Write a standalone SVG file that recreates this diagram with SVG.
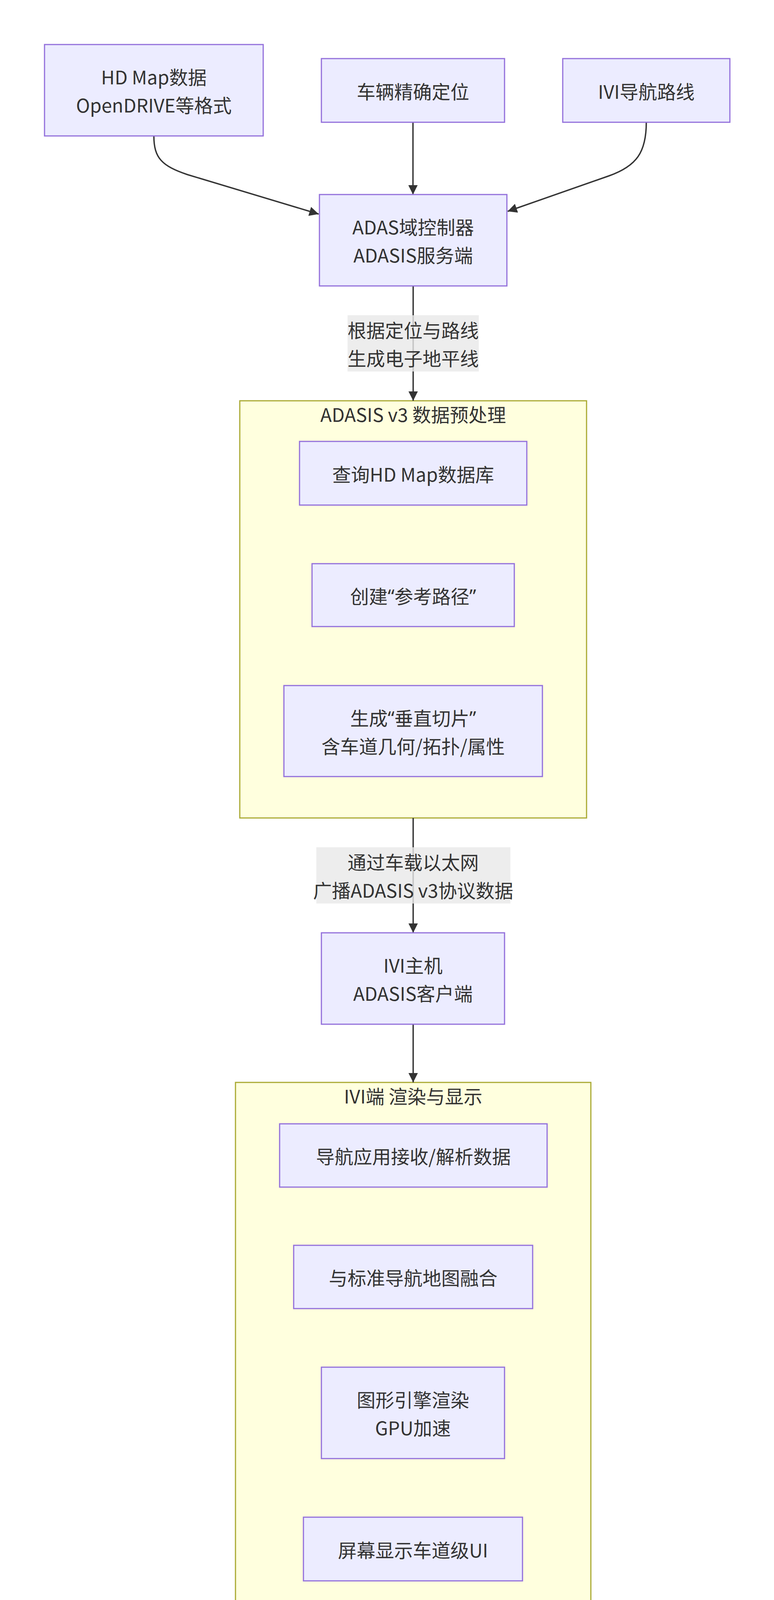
<svg xmlns="http://www.w3.org/2000/svg" width="1982" height="4265" viewBox="0 0 1982 4265">
<style>
text{font-family:"Noto Sans CJK SC","Noto Sans",sans-serif;font-size:48px;fill:#333;text-anchor:middle;dominant-baseline:central}
.q{font-family:"Noto Sans","Noto Sans CJK SC",sans-serif}
.node{fill:#ECECFF;stroke:#9370DB;stroke-width:3}
.cluster{fill:#FFFFDE;stroke:#AAAA33;stroke-width:3}
.edge{fill:none;stroke:#333;stroke-width:3.5}
.lbl{fill:#e8e8e8;fill-opacity:0.8}
.wm{font-family:"Liberation Sans",Arial,sans-serif;font-size:33px;fill:#d2d2d2;text-anchor:end;dominant-baseline:auto}
</style>
<defs>
<marker id="arr" viewBox="0 0 10 10" refX="10" refY="5" markerUnits="userSpaceOnUse" markerWidth="24" markerHeight="24" orient="auto">
<path d="M0,0 L10,5 L0,10 z" fill="#333"/>
</marker>
</defs>
<rect width="1982" height="4265" fill="#fff"/>

<g id="cluster-preprocess">
<rect class="cluster" x="614" y="1026" width="888" height="1068"/>
<text x="1058" y="1059">ADASIS v3 数据预处理</text>
</g>
<g id="cluster-ivi">
<rect class="cluster" x="603" y="2771" width="910" height="1380"/>
<text x="1058" y="2804">IVI端 渲染与显示</text>
</g>

<g id="connectors">
<path class="edge" d="M394,348 C394,405 415,425 480,447 L816,548" marker-end="url(#arr)"/>
<path class="edge" d="M1057.5,313 L1057.5,498" marker-end="url(#arr)"/>
<path class="edge" d="M1655,313 C1655,390 1630,425 1560,450 L1300,541" marker-end="url(#arr)"/>
<path class="edge" d="M1058,732 L1058,1026" marker-end="url(#arr)"/>
<path class="edge" d="M1058,2094 L1058,2388" marker-end="url(#arr)"/>
<path class="edge" d="M1058,2622 L1058,2771" marker-end="url(#arr)"/>
<g id="label-horizon">
<rect class="lbl" x="890" y="807" width="336" height="144"/>
<text x="1058" y="843">根据定位与路线</text>
<text x="1058" y="915">生成电子地平线</text>
</g>
<g id="label-ethernet">
<rect class="lbl" x="810" y="2169" width="497" height="144"/>
<text x="1058" y="2205">通过车载以太网</text>
<text x="1058" y="2277">广播ADASIS v3协议数据</text>
</g>
</g>

<g id="node-hdmap">
<rect class="node" x="114" y="114" width="560" height="234"/>
<text x="394" y="195">HD Map数据</text>
<text x="394" y="267">OpenDRIVE等格式</text>
</g>
<g id="node-position">
<rect class="node" x="823" y="150" width="469" height="163"/>
<text x="1057.5" y="231.5">车辆精确定位</text>
</g>
<g id="node-ivi-route">
<rect class="node" x="1441" y="150" width="428" height="163"/>
<text x="1655" y="231.5">IVI导航路线</text>
</g>
<g id="node-adas">
<rect class="node" x="818" y="498" width="480" height="234"/>
<text x="1058" y="579">ADAS域控制器</text>
<text x="1058" y="651">ADASIS服务端</text>
</g>
<g id="node-query">
<rect class="node" x="767" y="1130" width="582" height="163"/>
<text x="1058" y="1211.5">查询HD Map数据库</text>
</g>
<g id="node-refpath">
<rect class="node" x="799" y="1443" width="518" height="161"/>
<text x="1058" y="1523.5">创建<tspan class="q">“</tspan>参考路径<tspan class="q">”</tspan></text>
</g>
<g id="node-slice">
<rect class="node" x="727" y="1755" width="662" height="233"/>
<text x="1058" y="1835.5">生成<tspan class="q">“</tspan>垂直切片<tspan class="q">”</tspan></text>
<text x="1058" y="1907.5">含车道几何/拓扑/属性</text>
</g>
<g id="node-ivi-host">
<rect class="node" x="823" y="2388" width="469" height="234"/>
<text x="1057.5" y="2469">IVI主机</text>
<text x="1057.5" y="2541">ADASIS客户端</text>
</g>
<g id="node-nav-app">
<rect class="node" x="716" y="2877" width="685" height="162"/>
<text x="1058.5" y="2958">导航应用接收/解析数据</text>
</g>
<g id="node-fusion">
<rect class="node" x="752" y="3188" width="612" height="162"/>
<text x="1058" y="3269">与标准导航地图融合</text>
</g>
<g id="node-render">
<rect class="node" x="823" y="3500" width="469" height="234"/>
<text x="1057.5" y="3581">图形引擎渲染</text>
<text x="1057.5" y="3653">GPU加速</text>
</g>
<g id="node-display">
<rect class="node" x="777" y="3884" width="561" height="163"/>
<text x="1057.5" y="3965.5">屏幕显示车道级UI</text>
</g>

<text class="wm" x="1967" y="4226">CSDN @wechat_Neal</text>
</svg>
